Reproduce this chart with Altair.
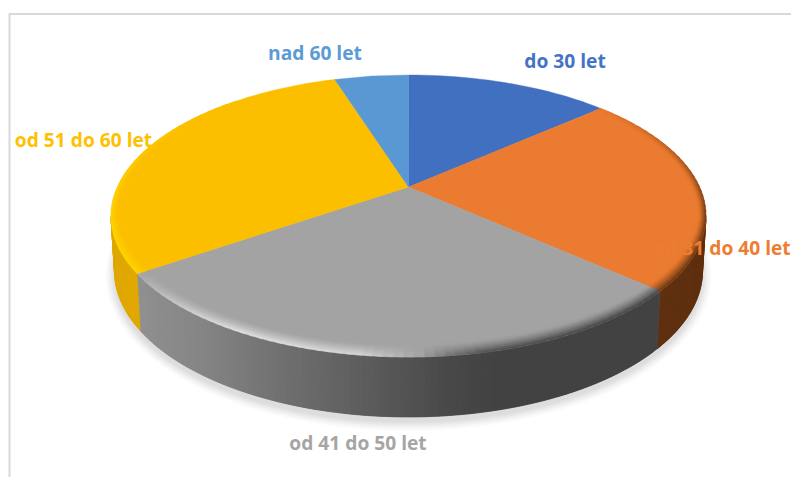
import math
import altair as alt
import numpy as np

categories = ["do 30 let", "od 31 do 40 let", "od 41 do 50 let", "od 51 do 60 let", "nad 60 let"]
shares = [13.5, 23.1, 28.8, 29.7, 4.9]
top_colors = ["#4270c0", "#ea7b30", "#a3a3a3", "#fbbf00", "#5a98d4"]
text_colors = ["#4472c4", "#ed7d31", "#a5a5a5", "#ffc000", "#5b9bd5"]

# label anchors, page pixels minus margin
label_x = [557, 714, 350, 75.5, 307]
label_y = [54, 241, 436, 133, 46]

# geometry of the tilted pie, in chart pixels
CX, CY, RX, RY = 400.5, 208.0, 297.5, 141.0
APEX_Y = 179.0
BCY, BRX, BRY = 263.0, 294.0, 146.0
E = (CY - APEX_Y) / RY
K = math.sqrt((1 + E) / (1 - E))


def phi_of(frac):
    h = frac * math.pi
    return 2 * math.atan2(math.sin(h), K * math.cos(h))


def rim(phi, t=0.0):
    # t=0 outer rim; t>0 moves along the line to the apex, so the slice edges stay straight
    x = CX + RX * math.sin(phi)
    y = CY - RY * math.cos(phi)
    c = math.cos(phi)
    w = (0.025 + 0.05 * max(0.0, -c) + 0.01 * max(0.0, c)) * t
    return [x + (CX - x) * w, y + (APEX_Y - y) * w]


def bottom(phi):
    return [CX + BRX * math.sin(phi), BCY - BRY * math.cos(phi)]


def feat(pts, fill):
    ring = [list(map(float, p)) for p in pts]
    ring.append(ring[0])
    return {"type": "Feature", "properties": {"fill": fill},
            "geometry": {"type": "Polygon", "coordinates": [ring]}}


def hex2(c):
    return np.array([int(c[i:i + 2], 16) for i in (1, 3, 5)], dtype=float)


def tohex(v):
    return "#%02x%02x%02x" % tuple(int(round(x)) for x in np.clip(v, 0, 255))


def mix(a, b, m):
    return tohex(hex2(a) * (1 - m) + hex2(b) * m)


cum = np.cumsum([0] + shares) / sum(shares)
bounds = [phi_of(f) for f in cum]
features = []

# soft shadow
for k in range(10, -1, -1):
    grey = 255 - int(round((10 - k) ** 1.25 * 1.9))
    pts = []
    for d in range(0, 360, 3):
        p = math.radians(d)
        pts.append([CX + (BRX + k) * math.sin(p), BCY + 5 - (BRY + k) * math.cos(p)])
    features.append(feat(pts, tohex(np.array([grey, grey, grey]))))

# side wall
grey_x = [130, 200, 280, 350, 400, 450, 500, 660]
grey_v = [145, 133, 112, 96, 84, 72, 66, 66]
for i, (a, b) in enumerate(zip(bounds[:-1], bounds[1:])):
    lo, hi = max(a, math.pi / 2), min(b, 1.5 * math.pi)
    if hi <= lo:
        continue
    if i != 2:
        n = 40
    else:
        n = max(2, int((hi - lo) / math.radians(1.2)))
    step = (hi - lo) / n
    # each strip runs under the next one
    for j in range(n):
        p0 = lo + step * j
        p1 = min(hi, p0 + step * 2)
        if i == 2:
            v = float(np.interp(rim(p0 + step / 2)[0] + 8, grey_x, grey_v))
            col = tohex(np.array([v, v, v]))
        elif i == 1:
            col = "#5f3010"
        else:
            col = "#e0a800"
        features.append(feat([rim(p0), rim(p1), bottom(p1), bottom(p0)], col))

# flat top
for i, (a, b) in enumerate(zip(bounds[:-1], bounds[1:])):
    n = max(2, int((b - a) / math.radians(1.5)))
    pts = [[CX, APEX_Y]] + [rim(a + (b - a) * j / n) for j in range(n + 1)]
    features.append(feat(pts, top_colors[i]))

# bevel along the rim
amt_d = [40, 60, 90, 122.5, 122.51, 247, 247.01, 262, 285, 300, 325]
amt_m = [0.0, .35, .9, .9, .95, .9, .9, .9, .7, .3, 0.0]
edge_grey_d = [122, 150, 165, 172, 178, 190, 215, 232, 247]
edge_grey_v = [60, 62, 72, 110, 165, 222, 232, 205, 165]
RINGS = 7
for i, (a, b) in enumerate(zip(bounds[:-1], bounds[1:])):
    if i not in (1, 2, 3):
        continue
    n = max(2, int((b - a) / math.radians(2)))
    step = (b - a) / n
    for j in range(n):
        p0 = a + step * j
        p1 = min(b, p0 + step * 1.5)
        deg = math.degrees(p0 + step / 2)
        amt = float(np.interp(deg, amt_d, amt_m))
        if amt <= 0.01:
            continue
        if i == 1:
            edge = "#5a2e0e"
        elif i == 3:
            edge = "#ffd800"
        else:
            g = float(np.interp(deg, edge_grey_d, edge_grey_v))
            edge = tohex(np.array([g, g, g]))
        for r in range(RINGS):
            t0, t1 = r / RINGS, min((r + 1.4) / RINGS, 1.0)
            m = amt * (1 - (r + 0.5) / RINGS) ** 1.3
            features.append(feat([rim(p0, t0), rim(p1, t0), rim(p1, t1), rim(p0, t1)],
                                 mix(top_colors[i], edge, m)))

W, H = 783, 469

pie = alt.Chart(alt.Data(values={"type": "FeatureCollection", "features": features},
                         format=alt.DataFormat(property="features", type="json"))
                ).mark_geoshape(strokeWidth=0.4).encode(
    fill=alt.Color("properties.fill:N", scale=None),
    stroke=alt.Stroke("properties.fill:N", scale=None),
).project(type="identity", scale=1, translate=[0, 0])

frame_top = alt.Chart(alt.Data(values=[{"a": 0}])).mark_rule(color="#d9d9d9", strokeWidth=2).encode(
    x=alt.value(1), x2=alt.value(W), y=alt.value(6))
frame_left = alt.Chart(alt.Data(values=[{"a": 0}])).mark_rule(color="#d9d9d9", strokeWidth=2).encode(
    x=alt.value(1.5), y=alt.value(5), y2=alt.value(H))

labels = alt.Chart(alt.Data(values=[
    {"label": c, "px": x, "py": y, "col": t}
    for c, x, y, t in zip(categories, label_x, label_y, text_colors)
])).mark_text(font="Open Sans", fontSize=19.2, fontWeight="bold", align="center", baseline="middle").encode(
    x=alt.X("px:Q", scale=alt.Scale(domain=[0, W], range=[0, W]), axis=None),
    y=alt.Y("py:Q", scale=alt.Scale(domain=[0, H], range=[0, H]), axis=None),
    text="label:N",
    color=alt.Color("col:N", scale=None),
)

chart = alt.layer(pie, frame_top, frame_left, labels).properties(
    width=W, height=H, padding=0, autosize=alt.AutoSizeParams(type="none"),
    background="white",
).configure_view(stroke=None)

chart.save("out.html", embed_options={"renderer": "svg", "actions": False})
